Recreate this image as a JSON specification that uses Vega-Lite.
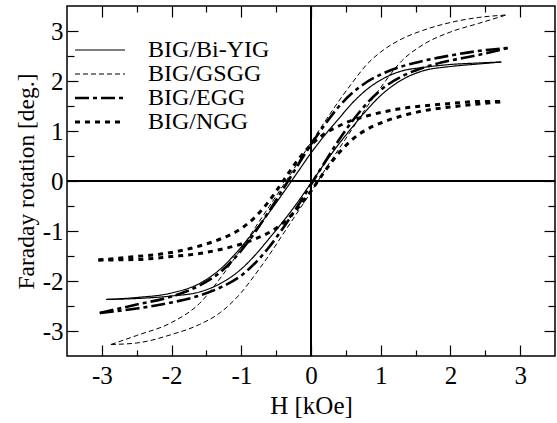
{
  "$schema": "https://vega.github.io/schema/vega-lite/v6.json",
  "width": 488,
  "height": 350,
  "autosize": {"type": "none"},
  "padding": {"left": 67, "top": 6, "right": 2, "bottom": 67},
  "background": "white",
  "config": {
    "font": "Liberation Serif",
    "view": {"stroke": "black", "strokeWidth": 1.5},
    "axis": {"domain": false, "grid": false, "tickColor": "black", "tickWidth": 1.2, "labelColor": "black", "titleColor": "black", "titleFontWeight": "normal", "labelFont": "Liberation Serif", "titleFont": "Liberation Serif"}
  },
  "data": {"values": [
    {"s":"BIG/Bi-YIG","b":"a","x":-2.94,"y":-2.37},{"s":"BIG/Bi-YIG","b":"a","x":-2.5,"y":-2.35},{"s":"BIG/Bi-YIG","b":"a","x":-2.0,"y":-2.30},{"s":"BIG/Bi-YIG","b":"a","x":-1.6,"y":-2.22},{"s":"BIG/Bi-YIG","b":"a","x":-1.3,"y":-2.05},{"s":"BIG/Bi-YIG","b":"a","x":-1.0,"y":-1.76},{"s":"BIG/Bi-YIG","b":"a","x":-0.8,"y":-1.48},{"s":"BIG/Bi-YIG","b":"a","x":-0.6,"y":-1.15},{"s":"BIG/Bi-YIG","b":"a","x":-0.4,"y":-0.81},{"s":"BIG/Bi-YIG","b":"a","x":-0.2,"y":-0.44},{"s":"BIG/Bi-YIG","b":"a","x":0,"y":-0.04},{"s":"BIG/Bi-YIG","b":"a","x":0.2,"y":0.36},{"s":"BIG/Bi-YIG","b":"a","x":0.4,"y":0.74},{"s":"BIG/Bi-YIG","b":"a","x":0.6,"y":1.09},{"s":"BIG/Bi-YIG","b":"a","x":0.8,"y":1.42},{"s":"BIG/Bi-YIG","b":"a","x":1.0,"y":1.71},{"s":"BIG/Bi-YIG","b":"a","x":1.3,"y":2.02},{"s":"BIG/Bi-YIG","b":"a","x":1.6,"y":2.20},{"s":"BIG/Bi-YIG","b":"a","x":2.0,"y":2.29},{"s":"BIG/Bi-YIG","b":"a","x":2.4,"y":2.34},{"s":"BIG/Bi-YIG","b":"a","x":2.73,"y":2.38},
    {"s":"BIG/Bi-YIG","b":"d","x":-2.94,"y":-2.37},{"s":"BIG/Bi-YIG","b":"d","x":-2.5,"y":-2.33},{"s":"BIG/Bi-YIG","b":"d","x":-2.0,"y":-2.24},{"s":"BIG/Bi-YIG","b":"d","x":-1.6,"y":-2.05},{"s":"BIG/Bi-YIG","b":"d","x":-1.3,"y":-1.76},{"s":"BIG/Bi-YIG","b":"d","x":-1.0,"y":-1.32},{"s":"BIG/Bi-YIG","b":"d","x":-0.8,"y":-0.98},{"s":"BIG/Bi-YIG","b":"d","x":-0.6,"y":-0.63},{"s":"BIG/Bi-YIG","b":"d","x":-0.4,"y":-0.24},{"s":"BIG/Bi-YIG","b":"d","x":-0.2,"y":0.16},{"s":"BIG/Bi-YIG","b":"d","x":0,"y":0.56},{"s":"BIG/Bi-YIG","b":"d","x":0.2,"y":0.92},{"s":"BIG/Bi-YIG","b":"d","x":0.4,"y":1.25},{"s":"BIG/Bi-YIG","b":"d","x":0.6,"y":1.57},{"s":"BIG/Bi-YIG","b":"d","x":0.8,"y":1.83},{"s":"BIG/Bi-YIG","b":"d","x":1.0,"y":2.02},{"s":"BIG/Bi-YIG","b":"d","x":1.3,"y":2.20},{"s":"BIG/Bi-YIG","b":"d","x":1.6,"y":2.27},{"s":"BIG/Bi-YIG","b":"d","x":2.0,"y":2.33},{"s":"BIG/Bi-YIG","b":"d","x":2.4,"y":2.36},{"s":"BIG/Bi-YIG","b":"d","x":2.73,"y":2.38},
    {"s":"BIG/GSGG","b":"a","x":-2.87,"y":-3.27},{"s":"BIG/GSGG","b":"a","x":-2.5,"y":-3.24},{"s":"BIG/GSGG","b":"a","x":-2.0,"y":-3.07},{"s":"BIG/GSGG","b":"a","x":-1.6,"y":-2.87},{"s":"BIG/GSGG","b":"a","x":-1.3,"y":-2.63},{"s":"BIG/GSGG","b":"a","x":-1.0,"y":-2.23},{"s":"BIG/GSGG","b":"a","x":-0.8,"y":-1.87},{"s":"BIG/GSGG","b":"a","x":-0.6,"y":-1.48},{"s":"BIG/GSGG","b":"a","x":-0.4,"y":-1.06},{"s":"BIG/GSGG","b":"a","x":-0.2,"y":-0.64},{"s":"BIG/GSGG","b":"a","x":0,"y":-0.22},{"s":"BIG/GSGG","b":"a","x":0.2,"y":0.22},{"s":"BIG/GSGG","b":"a","x":0.4,"y":0.64},{"s":"BIG/GSGG","b":"a","x":0.6,"y":1.06},{"s":"BIG/GSGG","b":"a","x":0.8,"y":1.48},{"s":"BIG/GSGG","b":"a","x":1.0,"y":1.87},{"s":"BIG/GSGG","b":"a","x":1.3,"y":2.40},{"s":"BIG/GSGG","b":"a","x":1.6,"y":2.72},{"s":"BIG/GSGG","b":"a","x":2.0,"y":2.98},{"s":"BIG/GSGG","b":"a","x":2.4,"y":3.15},{"s":"BIG/GSGG","b":"a","x":2.8,"y":3.32},
    {"s":"BIG/GSGG","b":"d","x":-2.87,"y":-3.27},{"s":"BIG/GSGG","b":"d","x":-2.5,"y":-3.09},{"s":"BIG/GSGG","b":"d","x":-2.0,"y":-2.83},{"s":"BIG/GSGG","b":"d","x":-1.6,"y":-2.45},{"s":"BIG/GSGG","b":"d","x":-1.3,"y":-1.94},{"s":"BIG/GSGG","b":"d","x":-1.0,"y":-1.35},{"s":"BIG/GSGG","b":"d","x":-0.8,"y":-0.93},{"s":"BIG/GSGG","b":"d","x":-0.6,"y":-0.51},{"s":"BIG/GSGG","b":"d","x":-0.4,"y":-0.09},{"s":"BIG/GSGG","b":"d","x":-0.2,"y":0.34},{"s":"BIG/GSGG","b":"d","x":0,"y":0.77},{"s":"BIG/GSGG","b":"d","x":0.2,"y":1.19},{"s":"BIG/GSGG","b":"d","x":0.4,"y":1.60},{"s":"BIG/GSGG","b":"d","x":0.6,"y":1.98},{"s":"BIG/GSGG","b":"d","x":0.8,"y":2.33},{"s":"BIG/GSGG","b":"d","x":1.0,"y":2.58},{"s":"BIG/GSGG","b":"d","x":1.3,"y":2.84},{"s":"BIG/GSGG","b":"d","x":1.6,"y":3.01},{"s":"BIG/GSGG","b":"d","x":2.0,"y":3.17},{"s":"BIG/GSGG","b":"d","x":2.4,"y":3.27},{"s":"BIG/GSGG","b":"d","x":2.8,"y":3.32},
    {"s":"BIG/EGG","b":"a","x":-3.03,"y":-2.64},{"s":"BIG/EGG","b":"a","x":-2.5,"y":-2.55},{"s":"BIG/EGG","b":"a","x":-2.0,"y":-2.43},{"s":"BIG/EGG","b":"a","x":-1.6,"y":-2.29},{"s":"BIG/EGG","b":"a","x":-1.3,"y":-2.13},{"s":"BIG/EGG","b":"a","x":-1.0,"y":-1.89},{"s":"BIG/EGG","b":"a","x":-0.8,"y":-1.64},{"s":"BIG/EGG","b":"a","x":-0.6,"y":-1.32},{"s":"BIG/EGG","b":"a","x":-0.4,"y":-0.94},{"s":"BIG/EGG","b":"a","x":-0.2,"y":-0.52},{"s":"BIG/EGG","b":"a","x":0,"y":-0.07},{"s":"BIG/EGG","b":"a","x":0.2,"y":0.38},{"s":"BIG/EGG","b":"a","x":0.4,"y":0.82},{"s":"BIG/EGG","b":"a","x":0.6,"y":1.21},{"s":"BIG/EGG","b":"a","x":0.8,"y":1.55},{"s":"BIG/EGG","b":"a","x":1.0,"y":1.82},{"s":"BIG/EGG","b":"a","x":1.3,"y":2.09},{"s":"BIG/EGG","b":"a","x":1.6,"y":2.26},{"s":"BIG/EGG","b":"a","x":2.0,"y":2.41},{"s":"BIG/EGG","b":"a","x":2.4,"y":2.52},{"s":"BIG/EGG","b":"a","x":2.82,"y":2.66},
    {"s":"BIG/EGG","b":"d","x":-3.03,"y":-2.64},{"s":"BIG/EGG","b":"d","x":-2.5,"y":-2.47},{"s":"BIG/EGG","b":"d","x":-2.0,"y":-2.31},{"s":"BIG/EGG","b":"d","x":-1.6,"y":-2.09},{"s":"BIG/EGG","b":"d","x":-1.3,"y":-1.82},{"s":"BIG/EGG","b":"d","x":-1.0,"y":-1.39},{"s":"BIG/EGG","b":"d","x":-0.8,"y":-1.02},{"s":"BIG/EGG","b":"d","x":-0.6,"y":-0.60},{"s":"BIG/EGG","b":"d","x":-0.4,"y":-0.16},{"s":"BIG/EGG","b":"d","x":-0.2,"y":0.29},{"s":"BIG/EGG","b":"d","x":0,"y":0.73},{"s":"BIG/EGG","b":"d","x":0.2,"y":1.13},{"s":"BIG/EGG","b":"d","x":0.4,"y":1.49},{"s":"BIG/EGG","b":"d","x":0.6,"y":1.77},{"s":"BIG/EGG","b":"d","x":0.8,"y":1.98},{"s":"BIG/EGG","b":"d","x":1.0,"y":2.13},{"s":"BIG/EGG","b":"d","x":1.3,"y":2.29},{"s":"BIG/EGG","b":"d","x":1.6,"y":2.40},{"s":"BIG/EGG","b":"d","x":2.0,"y":2.51},{"s":"BIG/EGG","b":"d","x":2.4,"y":2.60},{"s":"BIG/EGG","b":"d","x":2.82,"y":2.66},
    {"s":"BIG/NGG","b":"a","x":-3.05,"y":-1.58},{"s":"BIG/NGG","b":"a","x":-2.5,"y":-1.57},{"s":"BIG/NGG","b":"a","x":-2.0,"y":-1.51},{"s":"BIG/NGG","b":"a","x":-1.6,"y":-1.45},{"s":"BIG/NGG","b":"a","x":-1.3,"y":-1.37},{"s":"BIG/NGG","b":"a","x":-1.0,"y":-1.26},{"s":"BIG/NGG","b":"a","x":-0.8,"y":-1.16},{"s":"BIG/NGG","b":"a","x":-0.6,"y":-1.03},{"s":"BIG/NGG","b":"a","x":-0.4,"y":-0.84},{"s":"BIG/NGG","b":"a","x":-0.2,"y":-0.56},{"s":"BIG/NGG","b":"a","x":0,"y":-0.20},{"s":"BIG/NGG","b":"a","x":0.2,"y":0.20},{"s":"BIG/NGG","b":"a","x":0.4,"y":0.56},{"s":"BIG/NGG","b":"a","x":0.6,"y":0.84},{"s":"BIG/NGG","b":"a","x":0.8,"y":1.03},{"s":"BIG/NGG","b":"a","x":1.0,"y":1.16},{"s":"BIG/NGG","b":"a","x":1.3,"y":1.30},{"s":"BIG/NGG","b":"a","x":1.6,"y":1.40},{"s":"BIG/NGG","b":"a","x":2.0,"y":1.48},{"s":"BIG/NGG","b":"a","x":2.4,"y":1.54},{"s":"BIG/NGG","b":"a","x":2.78,"y":1.59},
    {"s":"BIG/NGG","b":"d","x":-3.05,"y":-1.58},{"s":"BIG/NGG","b":"d","x":-2.5,"y":-1.51},{"s":"BIG/NGG","b":"d","x":-2.0,"y":-1.43},{"s":"BIG/NGG","b":"d","x":-1.6,"y":-1.30},{"s":"BIG/NGG","b":"d","x":-1.3,"y":-1.16},{"s":"BIG/NGG","b":"d","x":-1.0,"y":-0.95},{"s":"BIG/NGG","b":"d","x":-0.8,"y":-0.72},{"s":"BIG/NGG","b":"d","x":-0.6,"y":-0.40},{"s":"BIG/NGG","b":"d","x":-0.4,"y":0},{"s":"BIG/NGG","b":"d","x":-0.2,"y":0.40},{"s":"BIG/NGG","b":"d","x":0,"y":0.72},{"s":"BIG/NGG","b":"d","x":0.2,"y":0.95},{"s":"BIG/NGG","b":"d","x":0.4,"y":1.10},{"s":"BIG/NGG","b":"d","x":0.6,"y":1.22},{"s":"BIG/NGG","b":"d","x":0.8,"y":1.30},{"s":"BIG/NGG","b":"d","x":1.0,"y":1.37},{"s":"BIG/NGG","b":"d","x":1.3,"y":1.45},{"s":"BIG/NGG","b":"d","x":1.6,"y":1.50},{"s":"BIG/NGG","b":"d","x":2.0,"y":1.55},{"s":"BIG/NGG","b":"d","x":2.4,"y":1.59},{"s":"BIG/NGG","b":"d","x":2.78,"y":1.59}
  ]},
  "layer": [
    {
      "mark": {"type": "rule", "color": "black", "strokeWidth": 1.3},
      "encoding": {
        "y": {"datum": 0, "type": "quantitative", "scale": {"domain": [-3.5, 3.5], "nice": false, "zero": false},
          "axis": {"orient": "right", "values": [-3,-2.5,-2,-1.5,-1,-0.5,0,0.5,1,1.5,2,2.5,3], "labels": false, "title": null,
            "tickSize": {"condition": {"test": "datum.value % 1 === 0", "value": -11}, "value": -7}}}
      }
    },
    {
      "mark": {"type": "rule", "color": "black", "strokeWidth": 1.3},
      "encoding": {
        "x": {"datum": 0, "type": "quantitative", "scale": {"domain": [-3.5, 3.5], "nice": false, "zero": false},
          "axis": {"orient": "top", "values": [-3,-2.5,-2,-1.5,-1,-0.5,0,0.5,1,1.5,2,2.5,3], "labels": false, "title": null,
            "tickSize": {"condition": {"test": "datum.value % 1 === 0", "value": -11}, "value": -6}}}
      }
    },
    {
      "mark": {"type": "line", "interpolate": "monotone", "color": "black"},
      "encoding": {
        "x": {"field": "x", "type": "quantitative", "scale": {"domain": [-3.5, 3.5], "nice": false, "zero": false},
          "axis": {"orient": "bottom", "values": [-3,-2.5,-2,-1.5,-1,-0.5,0,0.5,1,1.5,2,2.5,3], "title": "H [kOe]", "titleFontSize": 25, "titlePadding": 5, "labelFontSize": 25, "labelPadding": 18,
            "labelExpr": "datum.value % 1 === 0 ? '' + datum.value : ''",
            "tickSize": {"condition": {"test": "datum.value % 1 === 0", "value": -11}, "value": -6}}},
        "y": {"field": "y", "type": "quantitative", "scale": {"domain": [-3.5, 3.5], "nice": false, "zero": false},
          "axis": {"orient": "left", "values": [-3,-2.5,-2,-1.5,-1,-0.5,0,0.5,1,1.5,2,2.5,3], "title": "Faraday rotation [deg.]", "titleFontSize": 23.5, "titlePadding": 4, "labelFontSize": 25, "labelPadding": 15,
            "labelExpr": "datum.value % 1 === 0 ? '' + datum.value : ''",
            "tickSize": {"condition": {"test": "datum.value % 1 === 0", "value": -11}, "value": -7}}},
        "detail": {"field": "b"},
        "order": {"field": "x", "type": "quantitative"},
        "strokeDash": {"field": "s", "type": "nominal",
          "scale": {"domain": ["BIG/Bi-YIG", "BIG/GSGG", "BIG/EGG", "BIG/NGG"], "range": [[1, 0], [5, 3], [14, 4, 4, 4], [5, 5]]},
          "legend": {"orient": "none", "legendX": 21, "legendY": 32, "title": null, "padding": 0, "symbolType": "M-25,0H25", "symbolSize": 4, "symbolStrokeColor": "black", "labelFontSize": 24, "labelOffset": 36, "rowPadding": 0}},
        "strokeWidth": {"field": "s", "type": "nominal",
          "scale": {"type": "ordinal", "domain": ["BIG/Bi-YIG", "BIG/GSGG", "BIG/EGG", "BIG/NGG"], "range": [1.2, 1, 2.6, 3]},
          "legend": {"orient": "none", "legendX": 21, "legendY": 32, "title": null, "padding": 0, "symbolType": "M-25,0H25", "symbolSize": 4, "symbolStrokeColor": "black", "labelFontSize": 24, "labelOffset": 36, "rowPadding": 0}}
      }
    }
  ],
  "resolve": {"axis": {"x": "independent", "y": "independent"}}
}
